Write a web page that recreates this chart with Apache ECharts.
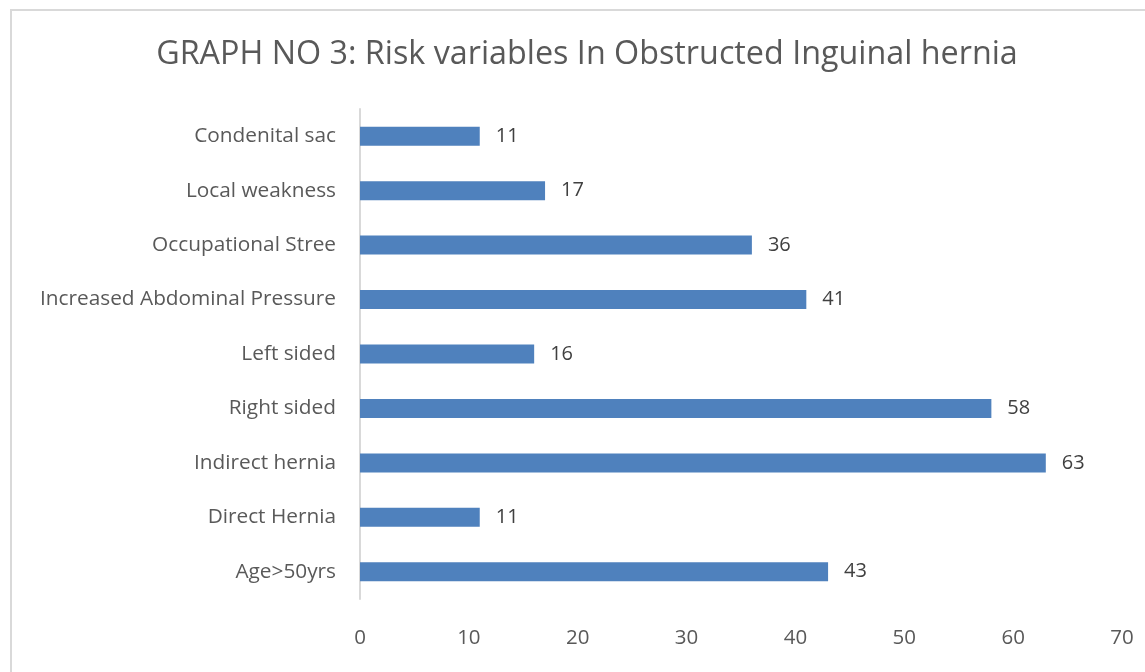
<!DOCTYPE html>
<html><head><meta charset="utf-8">
<script src="https://cdn.jsdelivr.net/npm/echarts@6/dist/echarts.min.js"></script>
<style>html,body{margin:0;padding:0;background:#fff;}#c{width:1145px;height:672px;}
#frame{position:absolute;left:10px;top:9px;width:1160px;height:700px;border:2px solid #d9d9d9;box-sizing:border-box;pointer-events:none;}</style>
</head><body><div id="c"></div><div id="frame"></div>
<script>
const categories = ["Age>50yrs","Direct Hernia","Indirect hernia","Right sided","Left sided","Increased Abdominal Pressure","Occupational Stree","Local weakness","Condenital sac"];
const values = [43,11,63,58,16,41,36,17,11];
const xTicks = [0,10,20,30,40,50,60,70];
const chart = echarts.init(document.getElementById('c'));
chart.setOption({
  animation:false,
  textStyle:{fontFamily:'Open Sans'},
  title:{text:'GRAPH NO 3: Risk variables In Obstructed Inguinal hernia',left:582,top:34,textAlign:'center',
    textStyle:{fontFamily:'Open Sans',fontSize:32.3,fontWeight:'normal',color:'#595959'}},
  grid:{left:360,right:23,top:109,bottom:73,containLabel:false},
  xAxis:{type:'value',min:xTicks[0],max:xTicks[xTicks.length-1],interval:10,
    axisLine:{show:false},axisTick:{show:false},splitLine:{show:false},
    axisLabel:{fontSize:20.5,color:'#595959',margin:29,fontFamily:'Open Sans'}},
  yAxis:{type:'category',data:categories,
    axisLine:{show:true,lineStyle:{color:'#d9d9d9',width:2}},axisTick:{show:false},
    axisLabel:{fontSize:20.8,color:'#595959',margin:24,fontFamily:'Open Sans'}},
  series:[{type:'bar',data:values,barWidth:19,itemStyle:{color:'#4f81bd'},
    label:{show:true,position:'right',distance:16,fontSize:20,color:'#404040',fontFamily:'Open Sans'}}]
});
</script></body></html>
